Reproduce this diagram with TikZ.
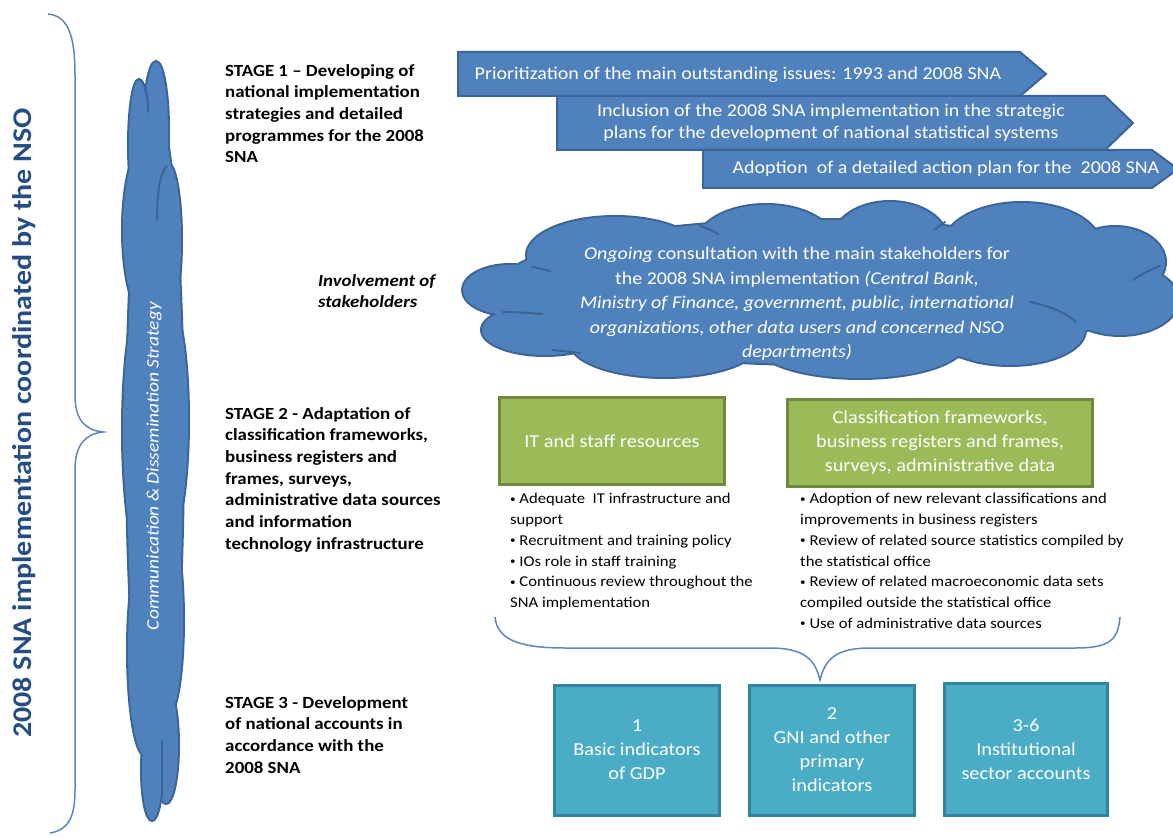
\documentclass[tikz,border=0pt]{standalone}
\usepackage{fontspec}
\setmainfont{Carlito}[FakeStretch=1.11]
\usetikzlibrary{shapes.geometric}
\definecolor{accblue}{HTML}{4F81BD}
\definecolor{accblueD}{HTML}{3A6596}
\definecolor{accgreen}{HTML}{9BBB59}
\definecolor{accgreenD}{HTML}{71893F}
\definecolor{accteal}{HTML}{4BACC6}
\definecolor{acctealD}{HTML}{31849B}
\definecolor{titleblue}{HTML}{234D84}
\definecolor{bracecol}{HTML}{5A86C0}
\newcommand{\smbul}{\raisebox{0.2ex}{\fontsize{10}{10}\selectfont\textbullet}}
\tikzset{
  chev/.style={fill=accblue,draw=accblueD,line width=2pt},
  chevtext/.style={text=white,font=\fontsize{18}{22}\selectfont,align=center,inner sep=0pt},
  stagetext/.style={anchor=north west,align=left,inner sep=0pt,font=\bfseries\fontsize{17}{21.7}\selectfont},
  greenbox/.style={fill=accgreen,draw=accgreenD,line width=3pt,text=white,align=center,font=\fontsize{18.3}{24}\selectfont},
  tealbox/.style={fill=accteal,draw=acctealD,line width=3pt,text=white,align=center,font=\fontsize{18.3}{24}\selectfont},
  bullettext/.style={anchor=north west,align=left,inner sep=0pt,font=\fontsize{15}{20.8}\selectfont},
  bracestyle/.style={draw=bracecol,line width=1.5pt},
  puffline/.style={draw=accblueD,line width=4pt},
  pufffill/.style={fill=accblue},
  crease/.style={draw=accblueD,line width=2pt,line cap=round},
}
\def\bigcloud{615/255/88/38, 766/245/70/40, 890/240/57/38, 1022/245/78/42, 1115/262/50/35, 1120/300/58/35, 1010/330/75/35, 860/343/105/35, 665/342/95/35, 545/330/63/25, 510/290/47/25, 815/292/320/72}
\def\vcloud{156/130/12/68, 139/145/10/65, 145/230/22/85, 168/240/13/76, 170/420/18/115, 142/430/19/130, 145/650/17/105, 168/620/15/95, 166/745/12/58, 152/770/10/50, 155/440/28/330}
\begin{document}
\begin{tikzpicture}[x=1pt,y=-1pt]
\useasboundingbox (0,0) rectangle (1173,837);
\begin{scope}
\clip (0,0) rectangle (1173,837);
% left brace
\draw[bracestyle] (48,14) .. controls (68,16) and (75,35) .. (75,75) -- (75,395) .. controls (75,420) and (85,430) .. (103,432) .. controls (85,434) and (75,445) .. (75,470) -- (75,790) .. controls (75,818) and (68,830) .. (50,833);
\node[rotate=90,text=titleblue,font=\bfseries\fontsize{27}{30}\selectfont,inner sep=0pt] (title) at (24,423) {2008 SNA implementation coordinated by the NSO};
% vertical cloud
\foreach \cx/\cy/\ra/\rb in \vcloud {\draw[puffline] (\cx,\cy) ellipse [x radius=\ra, y radius=\rb];}
\foreach \cx/\cy/\ra/\rb in \vcloud {\fill[pufffill] (\cx,\cy) ellipse [x radius=\ra, y radius=\rb];}
\draw[crease] (141,81) .. controls (146,85) and (148,97) .. (148,112);
\draw[crease] (167,166) .. controls (160,172) and (157,192) .. (157,220);
\draw[crease] (162,740) .. controls (162,760) and (162,780) .. (162,798);
\node[rotate=90,text=white,font=\itshape\fontsize{17.5}{20}\selectfont,inner sep=0pt] (vctext) at (154,466) {Communication \& Dissemination Strategy};
% stage labels
\node[stagetext] (s1) at (225,64) {STAGE 1 -- Developing of\\national implementation\\strategies and detailed\\programmes for the 2008\\SNA};
\node[stagetext,font=\bfseries\itshape\fontsize{17}{21.7}\selectfont] (inv) at (318,274) {Involvement of\\stakeholders};
\node[stagetext] (s2) at (225,407) {STAGE 2 - Adaptation of\\classification frameworks,\\business registers and\\frames, surveys,\\administrative data sources\\and information\\technology infrastructure};
\node[stagetext] (s3) at (225,696) {STAGE 3 - Development\\of national accounts in\\accordance with the\\2008 SNA};
% chevrons
\draw[chev] (458,52) -- (1020,52) -- (1046,74) -- (1020,96) -- (458,96) -- cycle;
\node[chevtext] (c1) at (738,75) {Prioritization of the main outstanding issues: 1993 and 2008 SNA};
\draw[chev] (557,96) -- (1105,96) -- (1133,123) -- (1105,150) -- (557,150) -- cycle;
\node[chevtext] (c2) at (831,123) {Inclusion of the 2008 SNA implementation\ in the strategic\\plans for the development\ of national statistical systems};
\draw[chev] (703,150) -- (1152,150) -- (1178,169) -- (1152,188) -- (703,188) -- cycle;
\node[chevtext] (c3) at (946,169) {Adoption\ \ of a detailed action plan for the\ \ 2008 SNA};
% big cloud
\foreach \cx/\cy/\ra/\rb in \bigcloud {\draw[puffline] (\cx,\cy) ellipse [x radius=\ra, y radius=\rb];}
\foreach \cx/\cy/\ra/\rb in \bigcloud {\fill[pufffill] (\cx,\cy) ellipse [x radius=\ra, y radius=\rb];}
\draw[crease] (700,226) .. controls (707,228) and (712,230) .. (718,234);
\draw[crease] (945,222) .. controls (941,225) and (938,227) .. (934,230);
\draw[crease] (1030,302) .. controls (1050,306) and (1066,313) .. (1076,322);
\draw[crease] (503,312) .. controls (515,312) and (530,313) .. (542,314);
\draw[crease] (552,350) .. controls (562,351) and (572,352) .. (580,353);
\draw[crease] (532,267) .. controls (538,268) and (544,269) .. (550,271);
\draw[crease] (1160,266) .. controls (1150,270) and (1140,275) .. (1133,280);
\node[chevtext,font=\fontsize{18}{24.6}\selectfont] (bctext) at (797,304) {\textit{Ongoing} consultation with the main stakeholders for\\the 2008 SNA implementation\ \textit{(Central Bank,}\\\textit{Ministry of Finance, government, public, international}\\\textit{organizations, other data users and concerned NSO}\\\textit{departments)}};
% green boxes
\node[greenbox,minimum width=225,minimum height=87] (g1) at (612,441) {IT and staff resources};
\node[greenbox,minimum width=305,minimum height=87] (g2) at (940,443) {Classification frameworks,\\business registers and frames,\\surveys, administrative data};
\node[bullettext] (b1) at (510,493) {\smbul{} Adequate\ \ IT infrastructure and\\support\\\smbul{} Recruitment and training policy\\\smbul{} IOs role in staff training\\\smbul{} Continuous review throughout the\\SNA implementation};
\node[bullettext] (b2) at (800,493) {\smbul{} Adoption of new relevant classifications and\\improvements in business registers\\\smbul{} Review of related source statistics compiled by\\the statistical office\\\smbul{} Review of related macroeconomic data sets\\compiled outside the statistical office\\\smbul{} Use of administrative data sources};
% bottom brace
\draw[bracestyle] (495,617) .. controls (497,640) and (520,648) .. (565,648) -- (770,648) .. controls (805,648) and (815,660) .. (820,680) .. controls (825,660) and (835,648) .. (870,648) -- (1075,648) .. controls (1110,648) and (1118,640) .. (1120,617);
% teal boxes
\node[tealbox,minimum width=165,minimum height=130] (t1) at (637,750) {1\\Basic indicators\\of GDP};
\node[tealbox,minimum width=165,minimum height=130] (t2) at (832,750) {2\\GNI and other\\primary\\indicators};
\node[tealbox,minimum width=163,minimum height=132] (t3) at (1026,749) {3-6\\Institutional\\sector accounts};
\end{scope}
\end{tikzpicture}
\end{document}
